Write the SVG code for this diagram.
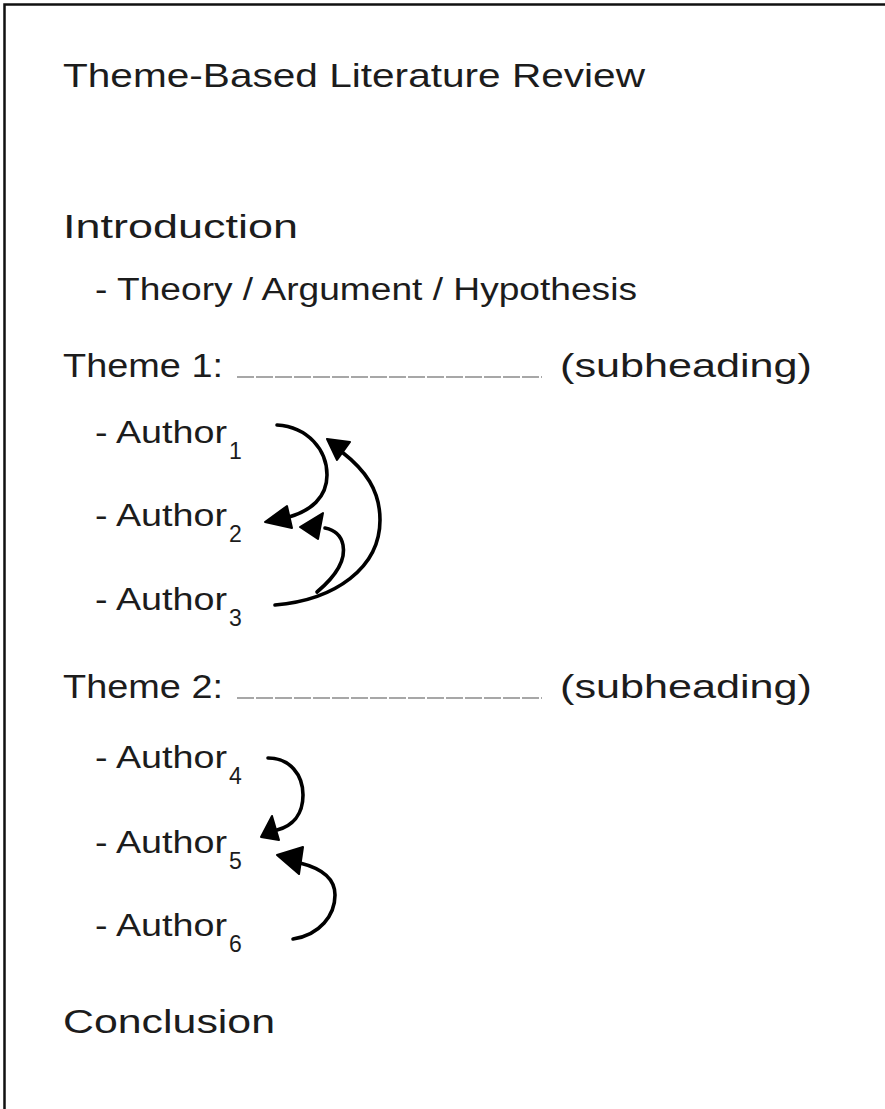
<svg xmlns="http://www.w3.org/2000/svg" width="885" height="1109" viewBox="0 0 885 1109">
<style>
  .t { font-family: "Liberation Sans", Arial, sans-serif; fill: #1c1c1c; }
  .h { font-size: 33px; }
  .a { font-size: 31px; }
  .s { font-size: 23px; }
  .ul { stroke: #8a8a8a; stroke-width: 1.6; stroke-dasharray: 17 2; fill: none; }
  .c { stroke: #000; stroke-width: 3.6; fill: none; stroke-linecap: round; }
  .hd { fill: #000; stroke: #000; stroke-width: 2; stroke-linejoin: round; }
</style>
<rect x="0" y="0" width="885" height="1109" fill="#fff"/>
<rect x="4.5" y="4.5" width="900" height="1130" fill="none" stroke="#111" stroke-width="2.5"/>

<g id="title"><text class="t h" x="63" y="87" textLength="582" lengthAdjust="spacingAndGlyphs">Theme-Based Literature Review</text></g>
<g id="introduction"><text class="t h" x="63" y="238" textLength="235" lengthAdjust="spacingAndGlyphs">Introduction</text></g>
<g id="theory"><text class="t a" x="95" y="300" textLength="542" lengthAdjust="spacingAndGlyphs">- Theory / Argument / Hypothesis</text></g>

<g id="theme1">
  <text class="t h" x="63" y="377" textLength="160" lengthAdjust="spacingAndGlyphs">Theme 1:</text>
  <line class="ul" x1="237" y1="377" x2="542" y2="377"/>
  <text class="t h" x="560" y="377" textLength="252" lengthAdjust="spacingAndGlyphs">(subheading)</text>
</g>

<g id="author1"><text class="t a" x="95" y="443"><tspan textLength="132" lengthAdjust="spacingAndGlyphs">- Author</tspan><tspan class="s" dx="2" dy="16">1</tspan></text></g>
<g id="author2"><text class="t a" x="95" y="526"><tspan textLength="132" lengthAdjust="spacingAndGlyphs">- Author</tspan><tspan class="s" dx="2" dy="16">2</tspan></text></g>
<g id="author3"><text class="t a" x="95" y="610"><tspan textLength="132" lengthAdjust="spacingAndGlyphs">- Author</tspan><tspan class="s" dx="2" dy="16">3</tspan></text></g>

<g id="theme2">
  <text class="t h" x="63" y="698" textLength="160" lengthAdjust="spacingAndGlyphs">Theme 2:</text>
  <line class="ul" x1="237" y1="698" x2="542" y2="698"/>
  <text class="t h" x="560" y="698" textLength="252" lengthAdjust="spacingAndGlyphs">(subheading)</text>
</g>

<g id="author4"><text class="t a" x="95" y="768"><tspan textLength="132" lengthAdjust="spacingAndGlyphs">- Author</tspan><tspan class="s" dx="2" dy="16">4</tspan></text></g>
<g id="author5"><text class="t a" x="95" y="853"><tspan textLength="132" lengthAdjust="spacingAndGlyphs">- Author</tspan><tspan class="s" dx="2" dy="16">5</tspan></text></g>
<g id="author6"><text class="t a" x="95" y="936"><tspan textLength="132" lengthAdjust="spacingAndGlyphs">- Author</tspan><tspan class="s" dx="2" dy="16">6</tspan></text></g>

<g id="conclusion"><text class="t h" x="63" y="1033" textLength="212" lengthAdjust="spacingAndGlyphs">Conclusion</text></g>

<g id="connectors">
  <path class="c" d="M277,425 C308,427 327,450 327,475 C327,498 310,511 289,517"/>
  <polygon class="hd" points="265,522 287,506 292,528"/>

  <path class="c" d="M275,605 C335,600 380,568 380,520 C380,490 365,470 342,452"/>
  <polygon class="hd" points="327,439 350,442 337,460"/>

  <path class="c" d="M317,592 C336,576 346,560 343,545 C341,535 335,530 325,528"/>
  <polygon class="hd" points="300,527 323,513 318,539"/>

  <path class="c" d="M268,758 C290,758 303,775 303,795 C303,815 292,826 277,830"/>
  <polygon class="hd" points="261,837 272,816 279,840"/>

  <path class="c" d="M293,939 C320,935 335,915 335,895 C335,878 320,868 300,863"/>
  <polygon class="hd" points="277,855 303,847 299,874"/>
</g>
</svg>
